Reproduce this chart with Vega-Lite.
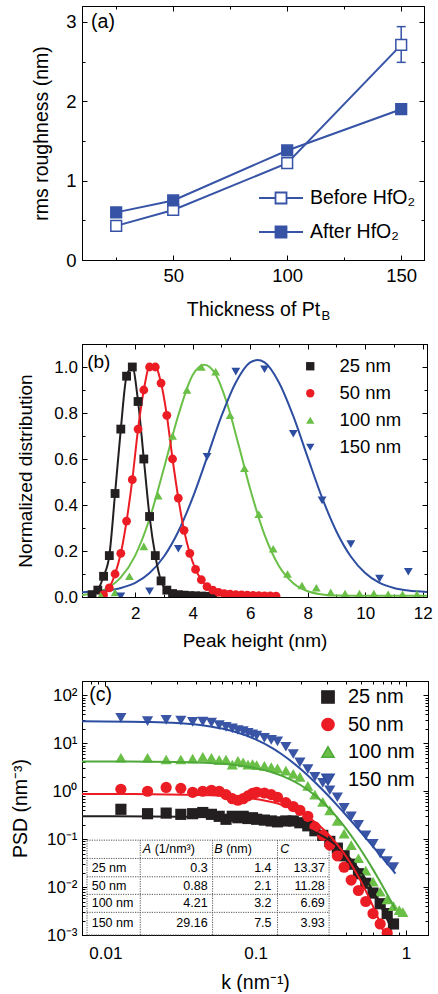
{
"$schema":"https://vega.github.io/schema/vega-lite/v6.json",
"padding":{"left":9,"top":5,"right":0,"bottom":0},
"bounds":"flush",
"spacing":84,
"resolve":{"scale":{"color":"independent","shape":"independent","stroke":"independent","fill":"independent","x":"independent","y":"independent"},"legend":{"color":"independent","shape":"independent","fill":"independent","stroke":"independent"}},
"config":{
 "font":"Liberation Sans",
 "view":{"stroke":"#000","strokeWidth":1},
 "axis":{"grid":false,"domainColor":"#000","domainWidth":1,"tickColor":"#000","tickWidth":1,"labelColor":"#000","titleColor":"#000","titleFontWeight":"normal","labelOverlap":false,"labelFlush":false,"labelBound":false,"labelFont":"Liberation Sans","titleFont":"Liberation Sans"},
 "legend":{"labelFont":"Liberation Sans","labelColor":"#000","padding":0}
},
"datasets":{
 "a":[
  {"t":25,"s":"Before HfO₂","r":0.43,"lo":0.40,"hi":0.46},
  {"t":50,"s":"Before HfO₂","r":0.63,"lo":0.60,"hi":0.66},
  {"t":100,"s":"Before HfO₂","r":1.22,"lo":1.17,"hi":1.27},
  {"t":150,"s":"Before HfO₂","r":2.71,"lo":2.49,"hi":2.94},
  {"t":25,"s":"After HfO₂","r":0.60},
  {"t":50,"s":"After HfO₂","r":0.75},
  {"t":100,"s":"After HfO₂","r":1.38},
  {"t":150,"s":"After HfO₂","r":1.90}
 ],
 "b":[
  {"s":"25 nm","h":0.5,"v":0.01},{"s":"25 nm","h":0.7,"v":0.03},{"s":"25 nm","h":0.9,"v":0.09},{"s":"25 nm","h":1.1,"v":0.18},{"s":"25 nm","h":1.3,"v":0.45},{"s":"25 nm","h":1.5,"v":0.73},{"s":"25 nm","h":1.7,"v":0.96},{"s":"25 nm","h":1.9,"v":1.0},{"s":"25 nm","h":2.1,"v":0.85},{"s":"25 nm","h":2.3,"v":0.60},{"s":"25 nm","h":2.5,"v":0.35},{"s":"25 nm","h":2.7,"v":0.18},{"s":"25 nm","h":2.9,"v":0.07},{"s":"25 nm","h":3.1,"v":0.03},{"s":"25 nm","h":3.3,"v":0.015},{"s":"25 nm","h":3.5,"v":0.01},{"s":"25 nm","h":3.7,"v":0.008},{"s":"25 nm","h":3.9,"v":0.006},{"s":"25 nm","h":4.1,"v":0.005},{"s":"25 nm","h":4.3,"v":0.004},{"s":"25 nm","h":4.5,"v":0.003},{"s":"25 nm","h":4.7,"v":0.002},
  {"s":"50 nm","h":0.9,"v":0.01},{"s":"50 nm","h":1.1,"v":0.04},{"s":"50 nm","h":1.3,"v":0.10},{"s":"50 nm","h":1.5,"v":0.19},{"s":"50 nm","h":1.7,"v":0.33},{"s":"50 nm","h":1.9,"v":0.51},{"s":"50 nm","h":2.1,"v":0.73},{"s":"50 nm","h":2.3,"v":0.90},{"s":"50 nm","h":2.5,"v":1.0},{"s":"50 nm","h":2.7,"v":1.0},{"s":"50 nm","h":2.9,"v":0.93},{"s":"50 nm","h":3.1,"v":0.79},{"s":"50 nm","h":3.3,"v":0.60},{"s":"50 nm","h":3.5,"v":0.43},{"s":"50 nm","h":3.7,"v":0.29},{"s":"50 nm","h":3.9,"v":0.19},{"s":"50 nm","h":4.1,"v":0.12},{"s":"50 nm","h":4.3,"v":0.075},{"s":"50 nm","h":4.5,"v":0.045},{"s":"50 nm","h":4.7,"v":0.03},{"s":"50 nm","h":4.9,"v":0.02},{"s":"50 nm","h":5.1,"v":0.015},{"s":"50 nm","h":5.3,"v":0.012},{"s":"50 nm","h":5.5,"v":0.01},{"s":"50 nm","h":5.7,"v":0.009},{"s":"50 nm","h":5.9,"v":0.008},{"s":"50 nm","h":6.1,"v":0.007},{"s":"50 nm","h":6.3,"v":0.006},{"s":"50 nm","h":6.5,"v":0.005},{"s":"50 nm","h":6.7,"v":0.005},{"s":"50 nm","h":6.9,"v":0.004},
  {"s":"100 nm","h":0.8,"v":0.005},{"s":"100 nm","h":1.3,"v":0.02},{"s":"100 nm","h":1.8,"v":0.09},{"s":"100 nm","h":2.3,"v":0.22},{"s":"100 nm","h":2.8,"v":0.44},{"s":"100 nm","h":3.3,"v":0.70},{"s":"100 nm","h":3.8,"v":0.90},{"s":"100 nm","h":4.3,"v":1.0},{"s":"100 nm","h":4.8,"v":0.98},{"s":"100 nm","h":5.3,"v":0.79},{"s":"100 nm","h":5.8,"v":0.56},{"s":"100 nm","h":6.3,"v":0.36},{"s":"100 nm","h":6.8,"v":0.21},{"s":"100 nm","h":7.3,"v":0.10},{"s":"100 nm","h":7.8,"v":0.05},{"s":"100 nm","h":8.3,"v":0.04},{"s":"100 nm","h":8.8,"v":0.02},{"s":"100 nm","h":9.3,"v":0.015},{"s":"100 nm","h":9.8,"v":0.015},{"s":"100 nm","h":10.3,"v":0.015},{"s":"100 nm","h":10.8,"v":0.012},{"s":"100 nm","h":11.3,"v":0.012},{"s":"100 nm","h":11.8,"v":0.012},
  {"s":"150 nm","h":1.5,"v":0.003},{"s":"150 nm","h":2.5,"v":0.025},{"s":"150 nm","h":3.5,"v":0.21},{"s":"150 nm","h":4.5,"v":0.61},{"s":"150 nm","h":5.5,"v":0.98},{"s":"150 nm","h":6.5,"v":0.99},{"s":"150 nm","h":7.5,"v":0.71},{"s":"150 nm","h":8.5,"v":0.42},{"s":"150 nm","h":9.5,"v":0.23},{"s":"150 nm","h":10.5,"v":0.08},{"s":"150 nm","h":11.5,"v":0.11}
 ],
 "bfit":[
  {"s":"100 nm","h":0.15,"v":0.009},{"s":"100 nm","h":0.5,"v":0.015},{"s":"100 nm","h":1,"v":0.036},{"s":"100 nm","h":1.5,"v":0.085},{"s":"100 nm","h":2,"v":0.18},{"s":"100 nm","h":2.5,"v":0.34},{"s":"100 nm","h":3,"v":0.56},{"s":"100 nm","h":3.5,"v":0.79},{"s":"100 nm","h":4,"v":0.965},{"s":"100 nm","h":4.4,"v":1.01},{"s":"100 nm","h":4.8,"v":0.967},{"s":"100 nm","h":5.2,"v":0.84},{"s":"100 nm","h":5.6,"v":0.66},{"s":"100 nm","h":6,"v":0.47},{"s":"100 nm","h":6.5,"v":0.27},{"s":"100 nm","h":7,"v":0.135},{"s":"100 nm","h":7.5,"v":0.06},{"s":"100 nm","h":8,"v":0.025},{"s":"100 nm","h":8.5,"v":0.011},{"s":"100 nm","h":9,"v":0.006},{"s":"100 nm","h":10,"v":0.005},{"s":"100 nm","h":12.15,"v":0.005},
  {"s":"150 nm","h":0.15,"v":0.021},{"s":"150 nm","h":1,"v":0.028},{"s":"150 nm","h":1.5,"v":0.039},{"s":"150 nm","h":2,"v":0.061},{"s":"150 nm","h":2.5,"v":0.104},{"s":"150 nm","h":3,"v":0.176},{"s":"150 nm","h":3.5,"v":0.285},{"s":"150 nm","h":4,"v":0.432},{"s":"150 nm","h":4.5,"v":0.607},{"s":"150 nm","h":5,"v":0.786},{"s":"150 nm","h":5.5,"v":0.933},{"s":"150 nm","h":6,"v":1.02},{"s":"150 nm","h":6.25,"v":1.03},{"s":"150 nm","h":6.5,"v":1.02},{"s":"150 nm","h":7,"v":0.933},{"s":"150 nm","h":7.5,"v":0.786},{"s":"150 nm","h":8,"v":0.607},{"s":"150 nm","h":8.5,"v":0.432},{"s":"150 nm","h":9,"v":0.285},{"s":"150 nm","h":9.5,"v":0.176},{"s":"150 nm","h":10,"v":0.104},{"s":"150 nm","h":10.5,"v":0.061},{"s":"150 nm","h":11,"v":0.039},{"s":"150 nm","h":11.5,"v":0.028},{"s":"150 nm","h":12.15,"v":0.022}
 ],
 "c":[
  {"s":"25 nm","k":0.0127,"p":0.42},{"s":"25 nm","k":0.0191,"p":0.34},{"s":"25 nm","k":0.0254,"p":0.35},{"s":"25 nm","k":0.0318,"p":0.33},{"s":"25 nm","k":0.0381,"p":0.34},{"s":"25 nm","k":0.0445,"p":0.36},{"s":"25 nm","k":0.0508,"p":0.33},{"s":"25 nm","k":0.0572,"p":0.30},{"s":"25 nm","k":0.0635,"p":0.26},{"s":"25 nm","k":0.0699,"p":0.30},{"s":"25 nm","k":0.0762,"p":0.28},{"s":"25 nm","k":0.0826,"p":0.30},{"s":"25 nm","k":0.0889,"p":0.27},{"s":"25 nm","k":0.0953,"p":0.28},{"s":"25 nm","k":0.1016,"p":0.26},{"s":"25 nm","k":0.1143,"p":0.25},{"s":"25 nm","k":0.127,"p":0.24},{"s":"25 nm","k":0.1397,"p":0.23},{"s":"25 nm","k":0.1588,"p":0.24},{"s":"25 nm","k":0.1778,"p":0.24},{"s":"25 nm","k":0.1969,"p":0.22},{"s":"25 nm","k":0.2223,"p":0.19},{"s":"25 nm","k":0.2477,"p":0.15},{"s":"25 nm","k":0.2794,"p":0.12},{"s":"25 nm","k":0.3112,"p":0.09},{"s":"25 nm","k":0.3493,"p":0.065},{"s":"25 nm","k":0.3874,"p":0.045},{"s":"25 nm","k":0.4318,"p":0.03},{"s":"25 nm","k":0.4826,"p":0.019},{"s":"25 nm","k":0.5398,"p":0.012},{"s":"25 nm","k":0.6033,"p":0.0075},{"s":"25 nm","k":0.6731,"p":0.0045},{"s":"25 nm","k":0.7493,"p":0.0028},{"s":"25 nm","k":0.8255,"p":0.0017},
  {"s":"50 nm","k":0.0127,"p":1.1},{"s":"50 nm","k":0.0191,"p":1.0},{"s":"50 nm","k":0.0254,"p":1.2},{"s":"50 nm","k":0.0318,"p":1.15},{"s":"50 nm","k":0.0381,"p":0.95},{"s":"50 nm","k":0.0445,"p":1.0},{"s":"50 nm","k":0.0508,"p":1.05},{"s":"50 nm","k":0.0572,"p":1.0},{"s":"50 nm","k":0.0635,"p":0.85},{"s":"50 nm","k":0.0699,"p":0.7},{"s":"50 nm","k":0.0762,"p":0.65},{"s":"50 nm","k":0.0826,"p":0.7},{"s":"50 nm","k":0.0889,"p":0.8},{"s":"50 nm","k":0.0953,"p":0.9},{"s":"50 nm","k":0.1016,"p":0.95},{"s":"50 nm","k":0.1143,"p":0.92},{"s":"50 nm","k":0.127,"p":0.85},{"s":"50 nm","k":0.1397,"p":0.75},{"s":"50 nm","k":0.1588,"p":0.58},{"s":"50 nm","k":0.1778,"p":0.48},{"s":"50 nm","k":0.1969,"p":0.4},{"s":"50 nm","k":0.2223,"p":0.3},{"s":"50 nm","k":0.2477,"p":0.18},{"s":"50 nm","k":0.2794,"p":0.12},{"s":"50 nm","k":0.3112,"p":0.075},{"s":"50 nm","k":0.3493,"p":0.045},{"s":"50 nm","k":0.3874,"p":0.026},{"s":"50 nm","k":0.4318,"p":0.014},{"s":"50 nm","k":0.4826,"p":0.0085},{"s":"50 nm","k":0.5398,"p":0.005},{"s":"50 nm","k":0.6033,"p":0.0028},{"s":"50 nm","k":0.6731,"p":0.0017},{"s":"50 nm","k":0.7493,"p":0.0011},{"s":"50 nm","k":0.8255,"p":0.0007},
  {"s":"100 nm","k":0.0127,"p":5.0},{"s":"100 nm","k":0.0191,"p":5.0},{"s":"100 nm","k":0.0254,"p":4.6},{"s":"100 nm","k":0.0318,"p":4.6},{"s":"100 nm","k":0.0381,"p":4.8},{"s":"100 nm","k":0.0445,"p":5.2},{"s":"100 nm","k":0.0508,"p":5.0},{"s":"100 nm","k":0.0572,"p":4.5},{"s":"100 nm","k":0.0635,"p":4.6},{"s":"100 nm","k":0.0699,"p":3.6},{"s":"100 nm","k":0.0762,"p":4.3},{"s":"100 nm","k":0.0826,"p":4.0},{"s":"100 nm","k":0.0889,"p":3.6},{"s":"100 nm","k":0.0953,"p":3.7},{"s":"100 nm","k":0.1016,"p":3.5},{"s":"100 nm","k":0.1143,"p":3.4},{"s":"100 nm","k":0.127,"p":3.2},{"s":"100 nm","k":0.1397,"p":3.0},{"s":"100 nm","k":0.1588,"p":2.7},{"s":"100 nm","k":0.1778,"p":2.3},{"s":"100 nm","k":0.1969,"p":2.0},{"s":"100 nm","k":0.2223,"p":1.3},{"s":"100 nm","k":0.2477,"p":0.85},{"s":"100 nm","k":0.2794,"p":0.6},{"s":"100 nm","k":0.3112,"p":0.4},{"s":"100 nm","k":0.3493,"p":0.24},{"s":"100 nm","k":0.3874,"p":0.13},{"s":"100 nm","k":0.4318,"p":0.075},{"s":"100 nm","k":0.4826,"p":0.04},{"s":"100 nm","k":0.5398,"p":0.022},{"s":"100 nm","k":0.6033,"p":0.013},{"s":"100 nm","k":0.6731,"p":0.008},{"s":"100 nm","k":0.7493,"p":0.0055},{"s":"100 nm","k":0.8255,"p":0.004},{"s":"100 nm","k":0.9017,"p":0.0033},{"s":"100 nm","k":0.9525,"p":0.003},
  {"s":"150 nm","k":0.0127,"p":34},{"s":"150 nm","k":0.0191,"p":29},{"s":"150 nm","k":0.0254,"p":31},{"s":"150 nm","k":0.0318,"p":30},{"s":"150 nm","k":0.0381,"p":28},{"s":"150 nm","k":0.0445,"p":28.5},{"s":"150 nm","k":0.0508,"p":27},{"s":"150 nm","k":0.0572,"p":24},{"s":"150 nm","k":0.0635,"p":22},{"s":"150 nm","k":0.0699,"p":20.5},{"s":"150 nm","k":0.0762,"p":19},{"s":"150 nm","k":0.0826,"p":18},{"s":"150 nm","k":0.0889,"p":16.5},{"s":"150 nm","k":0.0953,"p":15.5},{"s":"150 nm","k":0.1016,"p":14.5},{"s":"150 nm","k":0.1143,"p":13},{"s":"150 nm","k":0.127,"p":11.8},{"s":"150 nm","k":0.1397,"p":11},{"s":"150 nm","k":0.1588,"p":8.5},{"s":"150 nm","k":0.1778,"p":6},{"s":"150 nm","k":0.1969,"p":4.0},{"s":"150 nm","k":0.2223,"p":2.9},{"s":"150 nm","k":0.2477,"p":2.0},{"s":"150 nm","k":0.2794,"p":1.5},{"s":"150 nm","k":0.3112,"p":1.05},{"s":"150 nm","k":0.3493,"p":0.75},{"s":"150 nm","k":0.3874,"p":0.45},{"s":"150 nm","k":0.4318,"p":0.3},{"s":"150 nm","k":0.4826,"p":0.2},{"s":"150 nm","k":0.5398,"p":0.12},{"s":"150 nm","k":0.6033,"p":0.08},{"s":"150 nm","k":0.6731,"p":0.05},{"s":"150 nm","k":0.7493,"p":0.035},{"s":"150 nm","k":0.8255,"p":0.026}
 ],
 "cfit":[
  {"s":"25 nm","k":0.007,"p":0.3},{"s":"25 nm","k":0.02,"p":0.299},{"s":"25 nm","k":0.05,"p":0.29},{"s":"25 nm","k":0.07,"p":0.281},{"s":"25 nm","k":0.1,"p":0.263},{"s":"25 nm","k":0.13,"p":0.241},{"s":"25 nm","k":0.15,"p":0.225},{"s":"25 nm","k":0.2,"p":0.181},{"s":"25 nm","k":0.25,"p":0.139},{"s":"25 nm","k":0.3,"p":0.101},{"s":"25 nm","k":0.35,"p":0.0712},{"s":"25 nm","k":0.4,"p":0.0484},{"s":"25 nm","k":0.45,"p":0.0321},{"s":"25 nm","k":0.5,"p":0.0209},{"s":"25 nm","k":0.55,"p":0.0134},{"s":"25 nm","k":0.6,"p":0.0085},{"s":"25 nm","k":0.65,"p":0.0053},{"s":"25 nm","k":0.7,"p":0.0033},{"s":"25 nm","k":0.75,"p":0.0021},{"s":"25 nm","k":0.8,"p":0.0013},
  {"s":"50 nm","k":0.007,"p":0.88},{"s":"50 nm","k":0.02,"p":0.869},{"s":"50 nm","k":0.05,"p":0.827},{"s":"50 nm","k":0.07,"p":0.78},{"s":"50 nm","k":0.1,"p":0.69},{"s":"50 nm","k":0.13,"p":0.587},{"s":"50 nm","k":0.15,"p":0.516},{"s":"50 nm","k":0.2,"p":0.352},{"s":"50 nm","k":0.25,"p":0.223},{"s":"50 nm","k":0.3,"p":0.134},{"s":"50 nm","k":0.35,"p":0.077},{"s":"50 nm","k":0.4,"p":0.0434},{"s":"50 nm","k":0.45,"p":0.024},{"s":"50 nm","k":0.5,"p":0.0133},{"s":"50 nm","k":0.55,"p":0.0074},{"s":"50 nm","k":0.6,"p":0.0041},{"s":"50 nm","k":0.65,"p":0.0023},{"s":"50 nm","k":0.7,"p":0.0013},{"s":"50 nm","k":0.75,"p":0.00078},
  {"s":"100 nm","k":0.007,"p":4.2},{"s":"100 nm","k":0.02,"p":4.15},{"s":"100 nm","k":0.03,"p":4.08},{"s":"100 nm","k":0.05,"p":3.87},{"s":"100 nm","k":0.07,"p":3.57},{"s":"100 nm","k":0.1,"p":3.04},{"s":"100 nm","k":0.13,"p":2.47},{"s":"100 nm","k":0.15,"p":2.1},{"s":"100 nm","k":0.2,"p":1.336},{"s":"100 nm","k":0.25,"p":0.805},{"s":"100 nm","k":0.3,"p":0.474},{"s":"100 nm","k":0.35,"p":0.2775},{"s":"100 nm","k":0.4,"p":0.164},{"s":"100 nm","k":0.45,"p":0.0984},{"s":"100 nm","k":0.5,"p":0.0602},{"s":"100 nm","k":0.55,"p":0.0376},{"s":"100 nm","k":0.6,"p":0.024},{"s":"100 nm","k":0.65,"p":0.0156},{"s":"100 nm","k":0.7,"p":0.0104},{"s":"100 nm","k":0.75,"p":0.007},{"s":"100 nm","k":0.8,"p":0.0049},{"s":"100 nm","k":0.85,"p":0.0034},
  {"s":"150 nm","k":0.007,"p":29.0},{"s":"150 nm","k":0.02,"p":27.9},{"s":"150 nm","k":0.03,"p":26.5},{"s":"150 nm","k":0.05,"p":22.5},{"s":"150 nm","k":0.07,"p":18.1},{"s":"150 nm","k":0.1,"p":12.1},{"s":"150 nm","k":0.13,"p":7.84},{"s":"150 nm","k":0.15,"p":5.84},{"s":"150 nm","k":0.2,"p":2.875},{"s":"150 nm","k":0.25,"p":1.507},{"s":"150 nm","k":0.3,"p":0.845},{"s":"150 nm","k":0.35,"p":0.503},{"s":"150 nm","k":0.4,"p":0.316},{"s":"150 nm","k":0.45,"p":0.207},{"s":"150 nm","k":0.5,"p":0.141},{"s":"150 nm","k":0.55,"p":0.0994},{"s":"150 nm","k":0.6,"p":0.0718},{"s":"150 nm","k":0.65,"p":0.0531},{"s":"150 nm","k":0.7,"p":0.0401},{"s":"150 nm","k":0.75,"p":0.0309},{"s":"150 nm","k":0.8,"p":0.0242},{"s":"150 nm","k":0.85,"p":0.0192}
 ],
 "tab":[
  {"n":"25 nm","A":"0.3","B":"1.4","C":"13.37","yc":0.0255},
  {"n":"50 nm","A":"0.88","B":"2.1","C":"11.28","yc":0.01074},
  {"n":"100 nm","A":"4.21","B":"3.2","C":"6.69","yc":0.00457},
  {"n":"150 nm","A":"29.16","B":"7.5","C":"3.93","yc":0.001795}
 ],
 "tabrows":[{"p":0.0396},{"p":0.0164},{"p":0.00705},{"p":0.00297}],
 "tabcols":[{"k":0.01708},{"k":0.05172},{"k":0.1398}]
},
"vconcat":[
 {
  "width":342,"height":254,
  "resolve":{"axis":{"x":"independent","y":"independent"}},
  "layer":[
   {"data":{"name":"a"},"mark":{"type":"line","color":"#3653a6","strokeWidth":2},
    "encoding":{
     "x":{"field":"t","type":"quantitative","scale":{"domain":[10,160],"nice":false,"zero":false},
      "axis":{"orient":"bottom","values":[25,50,75,100,125,150],"labelExpr":"datum.value % 50 === 0 ? format(datum.value, 'd') : ''","tickSize":{"condition":{"test":"datum.value % 50 === 0","value":-5},"value":-3},"labelPadding":11.5,"labelFontSize":18.5,"title":"Thickness of Pt","titleFontSize":19.5,"titlePadding":13}},
     "y":{"field":"r","type":"quantitative","scale":{"domain":[0,3.2],"nice":false},
      "axis":{"orient":"left","values":[0,0.5,1,1.5,2,2.5,3],"labelExpr":"datum.value % 1 === 0 ? format(datum.value, 'd') : ''","tickSize":{"condition":{"test":"datum.value % 1 === 0","value":-5},"value":-3},"labelPadding":11,"labelFontSize":18.5,"title":"rms roughness (nm)","titleFontSize":19.5,"titlePadding":14}},
     "detail":{"field":"s","type":"nominal"}}},
   {"data":{"name":"a"},"transform":[{"filter":"isValid(datum.lo)"}],"mark":{"type":"rule","color":"#3653a6","strokeWidth":1.5},
    "encoding":{"x":{"field":"t","type":"quantitative","axis":null},"y":{"field":"lo","type":"quantitative","axis":null},"y2":{"field":"hi"}}},
   {"data":{"name":"a"},"transform":[{"filter":"isValid(datum.lo)"},{"fold":["lo","hi"],"as":["end","val"]}],"mark":{"type":"tick","orient":"horizontal","size":9,"thickness":1.5,"color":"#3653a6","opacity":1},
    "encoding":{"x":{"field":"t","type":"quantitative","axis":null},"y":{"field":"val","type":"quantitative","axis":null}}},
   {"data":{"name":"a"},"mark":{"type":"point","shape":"square","size":115,"filled":true,"opacity":1,"stroke":"#3653a6","strokeWidth":1.5},
    "encoding":{"x":{"field":"t","type":"quantitative","axis":null},"y":{"field":"r","type":"quantitative","axis":null},
     "fill":{"field":"s","type":"nominal","scale":{"domain":["Before HfO₂","After HfO₂"],"range":["#ffffff","#3653a6"]},
      "legend":{"orient":"none","legendX":176,"legendY":169,"title":null,"symbolType":"M-1,0H-0.25M0.25,0H1M-0.25,-0.25H0.25V0.25H-0.25Z","symbolSize":1936,"symbolStrokeColor":"#3653a6","symbolStrokeWidth":1.8,"labelFontSize":19.5,"labelOffset":6,"rowPadding":1}}}},
   {"data":{"values":[{}]},"mark":{"type":"text","text":"(a)","align":"left","baseline":"middle","fontSize":19.5},
    "encoding":{"x":{"datum":14,"type":"quantitative","axis":null},"y":{"datum":3.0,"type":"quantitative","axis":null}}},
   {"data":{"values":[{}]},"mark":{"type":"text","text":"B","align":"left","baseline":"middle","fontSize":13},
    "encoding":{"x":{"datum":115,"type":"quantitative","axis":null},"y":{"datum":-0.7,"type":"quantitative","axis":null}}},
   {"data":{"name":"a"},"mark":{"type":"point","opacity":0},
    "encoding":{
     "x":{"field":"t","type":"quantitative","axis":{"orient":"top","values":[25,50,75,100,125,150],"labels":false,"title":null,"tickSize":{"condition":{"test":"datum.value % 50 === 0","value":-5},"value":-3}}},
     "y":{"field":"r","type":"quantitative","axis":{"orient":"right","values":[0,0.5,1,1.5,2,2.5,3],"labels":false,"title":null,"tickSize":{"condition":{"test":"datum.value % 1 === 0","value":-5},"value":-3}}}}}
  ]
 },
 {
  "width":345,"height":253,
  "resolve":{"axis":{"x":"independent","y":"independent"}},
  "layer":[
   {"data":{"name":"bfit"},"transform":[{"filter":"datum.s === '100 nm'"}],"mark":{"type":"line","strokeWidth":2,"interpolate":"monotone","clip":true,"color":"#6abf47"},
    "encoding":{
     "x":{"field":"h","type":"quantitative","scale":{"domain":[0.15,12.15],"nice":false,"zero":false},
      "axis":{"orient":"bottom","values":[1,2,3,4,5,6,7,8,9,10,11,12],"labelExpr":"datum.value % 2 === 0 ? format(datum.value, 'd') : ''","tickSize":{"condition":{"test":"datum.value % 2 === 0","value":-5},"value":-3},"labelPadding":13,"labelFontSize":17,"title":"Peak height (nm)","titleFontSize":19,"titlePadding":8}},
     "y":{"field":"v","type":"quantitative","scale":{"domain":[0,1.1],"nice":false},
      "axis":{"orient":"left","values":[0,0.1,0.2,0.3,0.4,0.5,0.6,0.7,0.8,0.9,1,1.1],"labelExpr":"round(datum.value*10) % 2 === 0 ? format(datum.value, '.1f') : ''","tickSize":{"condition":{"test":"round(datum.value*10) % 2 === 0","value":-5},"value":-3},"labelPadding":9.5,"labelFontSize":17,"title":"Normalized distribution","titleFontSize":19,"titlePadding":18}}}},
   {"data":{"name":"bfit"},"transform":[{"filter":"datum.s === '150 nm'"}],"mark":{"type":"line","strokeWidth":2,"interpolate":"monotone","clip":true,"color":"#2c4da0"},
    "encoding":{"x":{"field":"h","type":"quantitative","axis":null},"y":{"field":"v","type":"quantitative","axis":null}}},
   {"data":{"name":"b"},"transform":[{"filter":"datum.s === '25 nm'"}],"mark":{"type":"line","strokeWidth":2,"interpolate":"monotone","clip":true,"color":"#231f20"},
    "encoding":{"x":{"field":"h","type":"quantitative","axis":null},"y":{"field":"v","type":"quantitative","axis":null}}},
   {"data":{"name":"b"},"transform":[{"filter":"datum.s === '50 nm'"}],"mark":{"type":"line","strokeWidth":2,"interpolate":"monotone","clip":true,"color":"#ec1c24"},
    "encoding":{"x":{"field":"h","type":"quantitative","axis":null},"y":{"field":"v","type":"quantitative","axis":null}}},
   {"data":{"name":"b"},"mark":{"type":"point","filled":true,"opacity":1,"size":78,"clip":true},
    "encoding":{"x":{"field":"h","type":"quantitative","axis":null},"y":{"field":"v","type":"quantitative","axis":null},
     "color":{"field":"s","type":"nominal","scale":{"domain":["25 nm","50 nm","100 nm","150 nm"],"range":["#231f20","#ec1c24","#6abf47","#2c4da0"]},
      "legend":{"orient":"none","legendX":219,"legendY":13,"title":null,"labelFontSize":18.5,"symbolSize":70,"labelOffset":20,"rowPadding":8,"symbolOpacity":1}},
     "shape":{"field":"s","type":"nominal","scale":{"domain":["25 nm","50 nm","100 nm","150 nm"],"range":["square","circle","triangle-up","triangle-down"]}}}},
   {"data":{"values":[{}]},"mark":{"type":"text","text":"(b)","align":"left","baseline":"middle","fontSize":19},
    "encoding":{"x":{"datum":0.33,"type":"quantitative","axis":null},"y":{"datum":1.02,"type":"quantitative","axis":null}}},
   {"data":{"name":"b"},"mark":{"type":"point","opacity":0},
    "encoding":{
     "x":{"field":"h","type":"quantitative","axis":{"orient":"top","values":[1,2,3,4,5,6,7,8,9,10,11,12],"labels":false,"title":null,"tickSize":{"condition":{"test":"datum.value % 2 === 0","value":-5},"value":-3}}},
     "y":{"field":"v","type":"quantitative","axis":{"orient":"right","values":[0,0.1,0.2,0.3,0.4,0.5,0.6,0.7,0.8,0.9,1,1.1],"labels":false,"title":null,"tickSize":{"condition":{"test":"round(datum.value*10) % 2 === 0","value":-5},"value":-3}}}}}
  ]
 },
 {
  "width":346,"height":254,
  "resolve":{"axis":{"x":"independent","y":"independent"}},
  "layer":[
   {"data":{"values":[{}]},"mark":{"type":"rect","fill":"#ffffff","stroke":"#555555","strokeWidth":1,"strokeDash":[1.2,1.2]},
    "encoding":{
     "x":{"datum":0.00756,"type":"quantitative","scale":{"type":"log","domain":[0.007,1.4],"nice":false},
      "axis":{"orient":"bottom","values":[0.007,0.008,0.009,0.01,0.02,0.03,0.04,0.05,0.06,0.07,0.08,0.09,0.1,0.2,0.3,0.4,0.5,0.6,0.7,0.8,0.9,1],"labelExpr":"datum.value === 0.01 ? '0.01' : datum.value === 0.1 ? '0.1' : datum.value === 1 ? '1' : ''","tickSize":{"condition":{"test":"indexof([0.01,0.1,1], datum.value) >= 0","value":-5},"value":-3},"labelPadding":15,"labelFontSize":17,"title":"k (nm⁻¹)","titleFontSize":19.5,"titlePadding":10}},
     "x2":{"datum":0.3078},
     "y":{"datum":0.0953,"type":"quantitative","scale":{"type":"log","domain":[0.001,200],"nice":false},
      "axis":{"orient":"left","values":[0.001,0.002,0.003,0.004,0.005,0.006,0.007,0.008,0.009,0.01,0.02,0.03,0.04,0.05,0.06,0.07,0.08,0.09,0.1,0.2,0.3,0.4,0.5,0.6,0.7,0.8,0.9,1,2,3,4,5,6,7,8,9,10,20,30,40,50,60,70,80,90,100],"labelExpr":"datum.value === 100 ? '10²' : datum.value === 10 ? '10¹' : datum.value === 1 ? '10⁰' : datum.value === 0.1 ? '10⁻¹' : datum.value === 0.01 ? '10⁻²' : datum.value === 0.001 ? '10⁻³' : ''","tickSize":{"condition":{"test":"indexof([0.001,0.01,0.1,1,10,100], datum.value) >= 0","value":-5},"value":-3},"labelPadding":10,"labelFontSize":17,"title":"PSD (nm⁻³)","titleFontSize":19.5,"titlePadding":16}},
     "y2":{"datum":0.001}}},
   {"data":{"name":"tabrows"},"mark":{"type":"rule","stroke":"#555555","strokeWidth":1,"strokeDash":[1.2,1.2]},
    "encoding":{"x":{"datum":0.00756,"type":"quantitative","axis":null},"x2":{"datum":0.3078},"y":{"field":"p","type":"quantitative","axis":null}}},
   {"data":{"name":"tabcols"},"mark":{"type":"rule","stroke":"#555555","strokeWidth":1,"strokeDash":[1.2,1.2]},
    "encoding":{"x":{"field":"k","type":"quantitative","axis":null},"y":{"datum":0.0953,"type":"quantitative","axis":null},"y2":{"datum":0.001}}},
   {"data":{"name":"tab"},"mark":{"type":"text","align":"left","baseline":"middle","fontSize":12.5},
    "encoding":{"x":{"datum":0.00812,"type":"quantitative","axis":null},"y":{"field":"yc","type":"quantitative","axis":null},"text":{"field":"n"}}},
   {"data":{"name":"tab"},"mark":{"type":"text","align":"right","baseline":"middle","fontSize":12.5},
    "encoding":{"x":{"datum":0.0479,"type":"quantitative","axis":null},"y":{"field":"yc","type":"quantitative","axis":null},"text":{"field":"A"}}},
   {"data":{"name":"tab"},"mark":{"type":"text","align":"right","baseline":"middle","fontSize":12.5},
    "encoding":{"x":{"datum":0.1275,"type":"quantitative","axis":null},"y":{"field":"yc","type":"quantitative","axis":null},"text":{"field":"B"}}},
   {"data":{"name":"tab"},"mark":{"type":"text","align":"right","baseline":"middle","fontSize":12.5},
    "encoding":{"x":{"datum":0.2884,"type":"quantitative","axis":null},"y":{"field":"yc","type":"quantitative","axis":null},"text":{"field":"C"}}},
   {"data":{"values":[{}]},"mark":{"type":"text","text":"A","align":"left","baseline":"middle","fontSize":12.5,"fontStyle":"italic"},
    "encoding":{"x":{"datum":0.01772,"type":"quantitative","axis":null},"y":{"datum":0.0619,"type":"quantitative","axis":null}}},
   {"data":{"values":[{}]},"mark":{"type":"text","text":"(1/nm³)","align":"left","baseline":"middle","fontSize":12.5,"dx":12},
    "encoding":{"x":{"datum":0.01772,"type":"quantitative","axis":null},"y":{"datum":0.0619,"type":"quantitative","axis":null}}},
   {"data":{"values":[{}]},"mark":{"type":"text","text":"B","align":"left","baseline":"middle","fontSize":12.5,"fontStyle":"italic"},
    "encoding":{"x":{"datum":0.05301,"type":"quantitative","axis":null},"y":{"datum":0.0619,"type":"quantitative","axis":null}}},
   {"data":{"values":[{}]},"mark":{"type":"text","text":"(nm)","align":"left","baseline":"middle","fontSize":12.5,"dx":12},
    "encoding":{"x":{"datum":0.05301,"type":"quantitative","axis":null},"y":{"datum":0.0619,"type":"quantitative","axis":null}}},
   {"data":{"values":[{}]},"mark":{"type":"text","text":"C","align":"left","baseline":"middle","fontSize":12.5,"fontStyle":"italic"},
    "encoding":{"x":{"datum":0.1455,"type":"quantitative","axis":null},"y":{"datum":0.0619,"type":"quantitative","axis":null}}},
   {"data":{"name":"c"},"mark":{"type":"point","filled":true,"opacity":1,"size":125,"clip":true},
    "encoding":{"x":{"field":"k","type":"quantitative","axis":null},"y":{"field":"p","type":"quantitative","axis":null},
     "color":{"field":"s","type":"nominal","scale":{"domain":["25 nm","50 nm","100 nm","150 nm"],"range":["#231f20","#ec1c24","#6abf47","#3a55a5"]},
      "legend":{"orient":"none","legendX":236,"legendY":6,"title":null,"labelFontSize":20,"symbolSize":150,"labelOffset":10,"rowPadding":7.5,"symbolOpacity":1}},
     "shape":{"field":"s","type":"nominal","scale":{"domain":["25 nm","50 nm","100 nm","150 nm"],"range":["square","circle","triangle-up","triangle-down"]}}}},
   {"data":{"name":"cfit"},"mark":{"type":"line","strokeWidth":2,"interpolate":"monotone","clip":true},
    "encoding":{"x":{"field":"k","type":"quantitative","axis":null},"y":{"field":"p","type":"quantitative","axis":null},
     "stroke":{"field":"s","type":"nominal","scale":{"domain":["25 nm","50 nm","100 nm","150 nm"],"range":["#231f20","#ec1c24","#4fa83a","#2c4da0"]},"legend":null}}},
   {"data":{"values":[{}]},"mark":{"type":"text","text":"(c)","align":"left","baseline":"middle","fontSize":19.5},
    "encoding":{"x":{"datum":0.00783,"type":"quantitative","axis":null},"y":{"datum":100,"type":"quantitative","axis":null}}},
   {"data":{"name":"c"},"mark":{"type":"point","opacity":0},
    "encoding":{
     "x":{"field":"k","type":"quantitative","axis":{"orient":"top","values":[0.007,0.008,0.009,0.01,0.02,0.03,0.04,0.05,0.06,0.07,0.08,0.09,0.1,0.2,0.3,0.4,0.5,0.6,0.7,0.8,0.9,1],"labels":false,"title":null,"tickSize":{"condition":{"test":"indexof([0.01,0.1,1], datum.value) >= 0","value":-5},"value":-3}}},
     "y":{"field":"p","type":"quantitative","axis":{"orient":"right","values":[0.001,0.002,0.003,0.004,0.005,0.006,0.007,0.008,0.009,0.01,0.02,0.03,0.04,0.05,0.06,0.07,0.08,0.09,0.1,0.2,0.3,0.4,0.5,0.6,0.7,0.8,0.9,1,2,3,4,5,6,7,8,9,10,20,30,40,50,60,70,80,90,100],"labels":false,"title":null,"tickSize":{"condition":{"test":"indexof([0.001,0.01,0.1,1,10,100], datum.value) >= 0","value":-5},"value":-3}}}}}
  ]
 }
]
}
